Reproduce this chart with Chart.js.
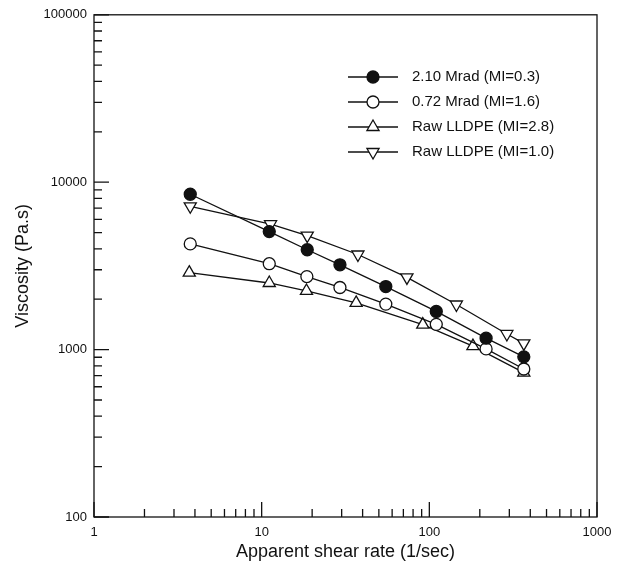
<!DOCTYPE html>
<html>
<head>
<meta charset="utf-8">
<script src="https://cdn.jsdelivr.net/npm/chart.js@4/dist/chart.umd.min.js"></script>
<style>
  html, body { margin: 0; padding: 0; background: #fff; }
</style>
</head>
<body>
<canvas id="myChart" width="620" height="574"></canvas>
<script>
// values (log-log)
var seriesNames = ["2.10 Mrad (MI=0.3)", "0.72 Mrad (MI=1.6)", "Raw LLDPE (MI=2.8)", "Raw LLDPE (MI=1.0)"];
var shearA = [3.75, 11.1, 18.7, 29.3, 55, 110, 218, 366];
var viscA = [8470, 5070, 3950, 3210, 2380, 1690, 1170, 905];
var shearB = [3.75, 11.1, 18.6, 29.3, 55, 110, 218, 366];
var viscB = [4280, 3260, 2730, 2350, 1870, 1415, 1010, 766];
var shearC = [3.7, 11.1, 18.5, 36.6, 91.4, 182, 366];
var viscC = [2880, 2500, 2240, 1900, 1410, 1050, 728];
var shearD = [3.75, 11.3, 18.7, 37.5, 73.5, 145, 290, 366];
var viscD = [7180, 5610, 4800, 3700, 2700, 1860, 1240, 1090];
var xTickLabels = [1, 10, 100, 1000];
var yTickLabels = [100, 1000, 10000, 100000];
var minorSteps = [2, 3, 4, 5, 6, 7, 8, 9];

function toPoints(xs, ys) {
    return xs.map(function (x, i) { return { x: x, y: ys[i] }; });
}

var ink = "#111";
var styles = [
    { pointStyle: "circle", fill: ink, radius: 6, rotation: 0 },
    { pointStyle: "circle", fill: "#fff", radius: 6, rotation: 0 },
    { pointStyle: "triangle", fill: "#fff", radius: 7, rotation: 0 },
    { pointStyle: "triangle", fill: "#fff", radius: 7, rotation: 180 }
];
var allData = [toPoints(shearA, viscA), toPoints(shearB, viscB), toPoints(shearC, viscC), toPoints(shearD, viscD)];

var datasets = allData.map(function (pts, i) {
    var s = styles[i];
    return {
        label: seriesNames[i],
        data: pts,
        borderColor: ink,
        borderWidth: 1.3,
        pointStyle: s.pointStyle,
        pointRotation: s.rotation,
        pointRadius: s.radius,
        pointHoverRadius: s.radius,
        pointBackgroundColor: s.fill,
        pointBorderColor: ink,
        pointBorderWidth: 1.3,
        showLine: true,
        tension: 0
    };
});

// frame plus inward major/minor ticks on left and bottom
var frameTicks = {
    id: "frameTicks",
    beforeDatasetsDraw: function (chart) {
        var ctx = chart.ctx, a = chart.chartArea;
        var xs = chart.scales.x, ys = chart.scales.y;
        ctx.save();
        ctx.strokeStyle = ink;
        ctx.lineWidth = 1.3;
        ctx.strokeRect(a.left, a.top, a.right - a.left, a.bottom - a.top);
        ctx.beginPath();
        xTickLabels.forEach(function (v, i) {
            var px = xs.getPixelForValue(v);
            ctx.moveTo(px, a.bottom); ctx.lineTo(px, a.bottom - 15);
            if (i < xTickLabels.length - 1) {
                minorSteps.forEach(function (k) {
                    var mx = xs.getPixelForValue(v * k);
                    ctx.moveTo(mx, a.bottom); ctx.lineTo(mx, a.bottom - 8);
                });
            }
        });
        yTickLabels.forEach(function (v, i) {
            var py = ys.getPixelForValue(v);
            ctx.moveTo(a.left, py); ctx.lineTo(a.left + 15, py);
            if (i < yTickLabels.length - 1) {
                minorSteps.forEach(function (k) {
                    var my = ys.getPixelForValue(v * k);
                    ctx.moveTo(a.left, my); ctx.lineTo(a.left + 8, my);
                });
            }
        });
        ctx.stroke();
        ctx.restore();
    }
};

// legend drawn inside the plot, upper right
var insideLegend = {
    id: "insideLegend",
    afterDraw: function (chart) {
        var ctx = chart.ctx;
        ctx.save();
        chart.data.datasets.forEach(function (ds, i) {
            var y = 77 + i * 25;
            ctx.strokeStyle = ink;
            ctx.lineWidth = 1.3;
            ctx.beginPath();
            ctx.moveTo(348, y); ctx.lineTo(398, y);
            ctx.stroke();
            ctx.fillStyle = ds.pointBackgroundColor;
            Chart.helpers.drawPoint(ctx, {
                pointStyle: ds.pointStyle,
                rotation: ds.pointRotation,
                radius: ds.pointRadius,
                borderWidth: 1.3
            }, 373, y);
            ctx.fillStyle = ink;
            ctx.font = "15px 'Liberation Sans', Arial, sans-serif";
            ctx.textBaseline = "middle";
            ctx.textAlign = "left";
            ctx.fillText(ds.label, 412, y);
        });
        ctx.restore();
    }
};

var tickFont = { family: "'Liberation Sans', Arial, sans-serif", size: 13 };
var titleFont = { family: "'Liberation Sans', Arial, sans-serif", size: 18 };

var config = {
    type: "scatter",
    data: { datasets: datasets },
    options: {
        responsive: false,
        animation: false,
        devicePixelRatio: 1,
        layout: { padding: { top: 14, right: 23, left: 0, bottom: 0 } },
        plugins: {
            legend: { display: false },
            tooltip: { enabled: false }
        },
        scales: {
            x: {
                type: "logarithmic",
                min: 1,
                max: 1000,
                grid: { display: false, drawTicks: false },
                border: { display: false },
                afterFit: function (scale) { scale.height = 57; },
                ticks: {
                    autoSkip: false,
                    maxRotation: 0,
                    padding: 8,
                    color: ink,
                    font: tickFont,
                    callback: function (v) { return xTickLabels.indexOf(v) >= 0 ? String(v) : ""; }
                },
                title: {
                    display: true,
                    text: "Apparent shear rate (1/sec)",
                    color: ink,
                    font: titleFont,
                    padding: { top: 0, bottom: 11 }
                }
            },
            y: {
                type: "logarithmic",
                min: 100,
                max: 100000,
                grid: { display: false, drawTicks: false },
                border: { display: false },
                afterFit: function (scale) { scale.width = 94; },
                ticks: {
                    autoSkip: false,
                    padding: 7,
                    color: ink,
                    font: tickFont,
                    callback: function (v) { return yTickLabels.indexOf(v) >= 0 ? String(v) : ""; }
                },
                title: {
                    display: true,
                    text: "Viscosity (Pa.s)",
                    color: ink,
                    font: titleFont,
                    padding: { top: 12, bottom: 0 }
                }
            }
        }
    },
    plugins: [frameTicks, insideLegend]
};

var myChart = new Chart(document.getElementById("myChart").getContext("2d"), config);
</script>
</body>
</html>
